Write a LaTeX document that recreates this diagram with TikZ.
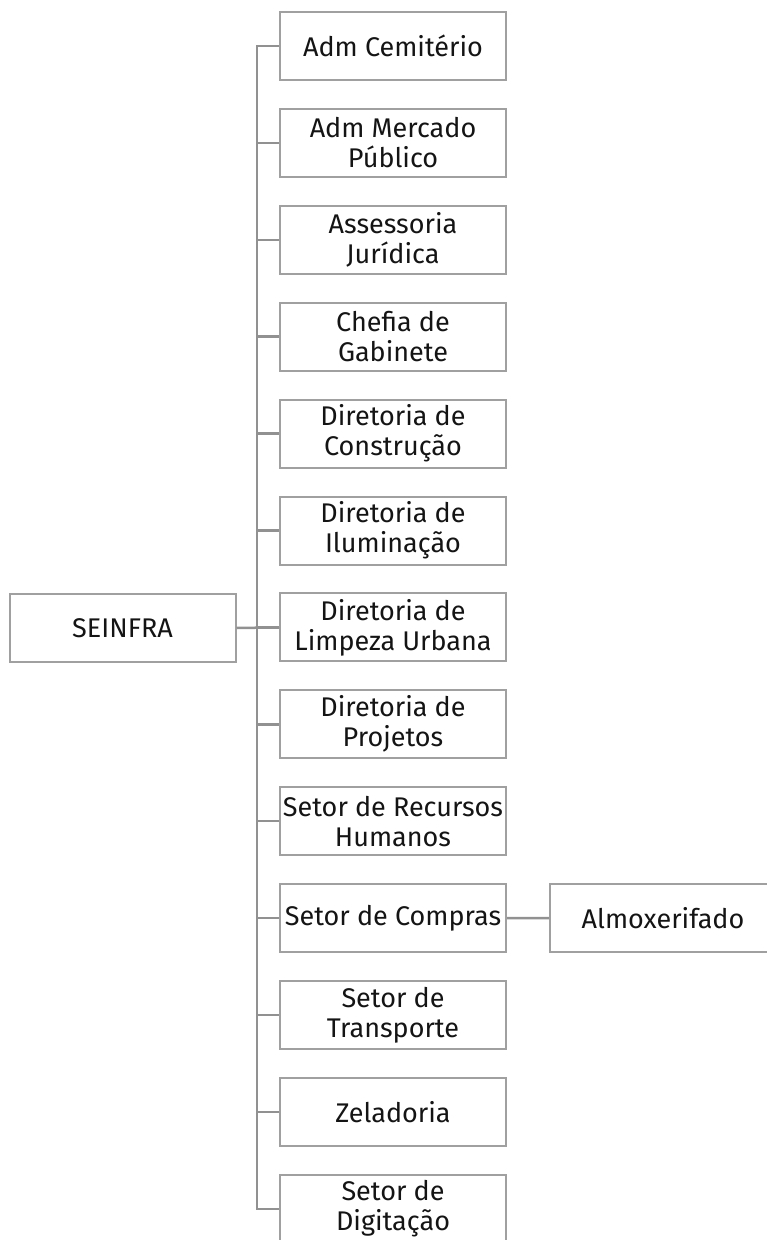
\documentclass[tikz,border=0pt]{standalone}
\usepackage{fontspec}
\setmainfont{Fira Sans}
\begin{document}
\begin{tikzpicture}[x=1pt,y=-1pt,
  box/.style={draw={rgb,255:red,160;green,160;blue,160}, line width=2pt, minimum width=226pt, minimum height=68pt,
    inner sep=0pt, align=center, font=\fontsize{27}{30}\selectfont, text={rgb,255:red,20;green,20;blue,20}},
  conn/.style={draw={rgb,255:red,145;green,145;blue,145}, line width=2.5pt}]
\useasboundingbox (0,0) rectangle (766,1240);
\node[box] (seinfra) at (122.5,628) {SEINFRA};
\foreach \i/\t in {0/{Adm Cemitério},1/{Adm Mercado\\Público},2/{Assessoria\\Jurídica},3/{Chefia de\\Gabinete},4/{Diretoria de\\Construção},5/{Diretoria de\\Iluminação},6/{Diretoria de\\Limpeza Urbana},7/{Diretoria de\\Projetos},8/{Setor de Recursos\\Humanos},9/{Setor de Compras},10/{Setor de\\Transporte},11/{Zeladoria},12/{Setor de\\Digitação}}{
  \node[box] (b\i) at (393,46+\i*96.9) {\t};
}
\node[box] (almox) at (663,918.1) {Almoxerifado};
\draw[conn] (b0.west) -- ++(-22,0) coordinate (ttop) |- (b12.west);
\foreach \i in {1,...,11}{\draw[conn] (b\i.west) -- ++(-22,0);}
\draw[conn] (seinfra.east) -- (b6.west);
\draw[conn] (b9.east) -- (almox.west);
\end{tikzpicture}
\end{document}
